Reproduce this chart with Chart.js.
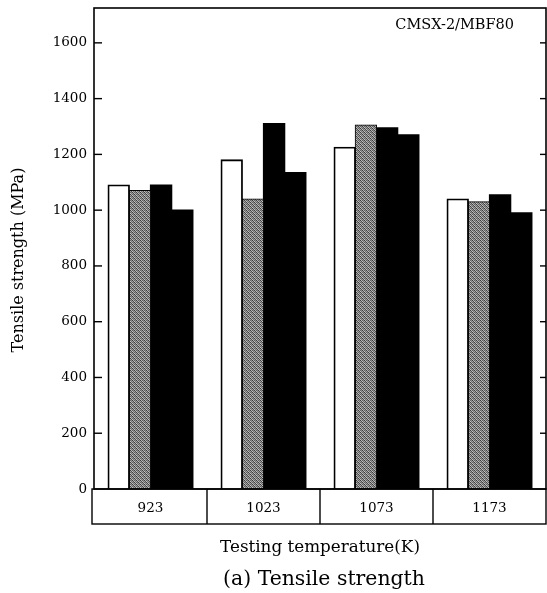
<!DOCTYPE html>
<html>
<head>
<meta charset="utf-8">
<title>Tensile strength</title>
<script src="https://cdn.jsdelivr.net/npm/chart.js@4.4.1/dist/chart.umd.min.js"></script>
<style>
    html, body { margin: 0; padding: 0; background: #fff; }
    #wrap { width: 547px; height: 593px; }
</style>
</head>
<body>
<div id="wrap"><canvas id="tensile-chart" width="547" height="593"></canvas></div>
<script>
// Testing temperatures (K) and tensile strength (MPa) per specimen condition
var temperatures = ['923', '1023', '1073', '1173'];
var whiteBars = [1090, 1180, 1225, 1040];
var grayBars = [1070, 1040, 1305, 1030];
var blackBars1 = [1090, 1310, 1295, 1055];
var blackBars2 = [1000, 1135, 1270, 990];
var yTickValues = [0, 200, 400, 600, 800, 1000, 1200, 1400, 1600];
var yMax = 1725;

var serif = '"DejaVu Serif", "Liberation Serif", serif';

/**
 * Speckled gray fill, like the halftone in the printed figure
 */
function makeGrayPattern() {
    var shades = [
        [0x55, 0xcc, 0x77, 0xaa],
        [0xbb, 0x66, 0xdd, 0x88],
        [0x77, 0xaa, 0x55, 0xcc],
        [0xdd, 0x88, 0xbb, 0x66]
    ];
    var c = document.createElement('canvas');
    c.width = 4;
    c.height = 4;
    var g = c.getContext('2d');
    for (var r = 0; r < 4; r++) {
        for (var k = 0; k < 4; k++) {
            var v = shades[r][k] - 25;
            g.fillStyle = 'rgb(' + v + ',' + v + ',' + v + ')';
            g.fillRect(k, r, 1, 1);
        }
    }
    return g.createPattern(c, 'repeat');
}

function line(ctx, x1, y1, x2, y2) {
    ctx.beginPath();
    ctx.moveTo(x1, y1);
    ctx.lineTo(x2, y2);
    ctx.stroke();
}

// Frame, inward ticks, category table and loose labels
var framePlugin = {
    id: 'frame',
    afterDraw: function(chart) {
        var ctx = chart.ctx;
        var a = chart.chartArea;
        var xs = chart.scales.x;
        var ys = chart.scales.y;

        ctx.save();
        ctx.strokeStyle = '#000';
        ctx.lineWidth = 1.6;
        ctx.strokeRect(a.left, a.top, a.right - a.left, a.bottom - a.top);

        ctx.lineWidth = 1.4;
        yTickValues.forEach(function(v) {
            if (v === 0) {
                return;
            }
            var py = ys.getPixelForValue(v);
            line(ctx, a.left, py, a.left + 8, py);
            line(ctx, a.right - 6, py, a.right, py);
        });

        // table under the axis holding the temperature labels
        var boxH = 35;
        ctx.lineWidth = 1.4;
        ctx.strokeRect(a.left - 2, a.bottom, a.right - a.left + 2, boxH);
        for (var i = 1; i < temperatures.length; i++) {
            var bx = (xs.getPixelForValue(i - 1) + xs.getPixelForValue(i)) / 2;
            line(ctx, bx, a.bottom, bx, a.bottom + boxH);
        }

        ctx.fillStyle = '#000';

        // y axis title
        ctx.save();
        ctx.translate(19, 260);
        ctx.rotate(-Math.PI / 2);
        ctx.font = '16px ' + serif;
        ctx.textAlign = 'center';
        ctx.textBaseline = 'middle';
        ctx.fillText('Tensile strength (MPa)', 0, 0);
        ctx.restore();

        // material label
        ctx.font = '14.5px ' + serif;
        ctx.textAlign = 'right';
        ctx.textBaseline = 'middle';
        ctx.fillText('CMSX-2/MBF80', 514, 25);

        // caption
        ctx.font = '20.4px ' + serif;
        ctx.textAlign = 'center';
        ctx.fillText('(a) Tensile strength', 324, 580);

        ctx.restore();
    }
};

var ctx = document.getElementById('tensile-chart').getContext('2d');
var grayFill = makeGrayPattern();

new Chart(ctx, {
    type: 'bar',
    data: {
        labels: temperatures,
        datasets: [
            { label: 'A', data: whiteBars, backgroundColor: '#ffffff', borderWidth: 1.8 },
            { label: 'B', data: grayBars, backgroundColor: grayFill, borderWidth: 1 },
            { label: 'C', data: blackBars1, backgroundColor: '#000000', borderWidth: 0 },
            { label: 'D', data: blackBars2, backgroundColor: '#000000', borderWidth: 0 }
        ]
    },
    options: {
        responsive: false,
        animation: false,
        devicePixelRatio: 1,
        layout: {
            padding: { top: 8, right: 1, left: 0, bottom: 0 }
        },
        datasets: {
            bar: {
                borderColor: '#000000',
                borderSkipped: 'bottom',
                inflateAmount: 0.6,
                categoryPercentage: 0.75,
                barPercentage: 1.0
            }
        },
        plugins: {
            legend: { display: false },
            tooltip: { enabled: false },
            title: { display: false }
        },
        scales: {
            x: {
                afterFit: function(scale) {
                    scale.height = 104;
                },
                grid: { display: false, drawTicks: false },
                border: { display: false },
                ticks: {
                    color: '#000',
                    padding: 11,
                    font: { family: serif, size: 13.5 }
                },
                title: {
                    display: true,
                    text: 'Testing temperature(K)',
                    color: '#000',
                    font: { family: serif, size: 16.8 },
                    padding: { top: 0, bottom: 35 }
                }
            },
            y: {
                min: 0,
                max: yMax,
                afterFit: function(scale) {
                    scale.width = 94;
                    scale.paddingTop = 0;
                    scale.paddingBottom = 0;
                },
                afterBuildTicks: function(scale) {
                    scale.ticks = yTickValues.map(function(v) {
                        return { value: v };
                    });
                },
                grid: { display: false, drawTicks: false },
                border: { display: false },
                ticks: {
                    color: '#000',
                    padding: 7,
                    font: { family: serif, size: 13.5 },
                    callback: function(value) {
                        return String(value);
                    }
                }
            }
        }
    },
    plugins: [framePlugin]
});
</script>
</body>
</html>
